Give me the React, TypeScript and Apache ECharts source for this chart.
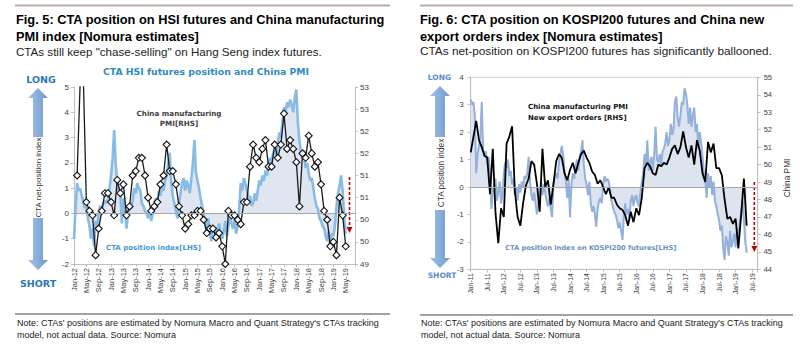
import React, { useEffect, useRef } from 'react';
import * as echarts from 'echarts';

// ---------- Fig. 5 data (HSI) ----------
const hsiTickLabels = ['Jan-12','May-12','Sep-12','Jan-13','May-13','Sep-13','Jan-14','May-14','Sep-14','Jan-15','May-15','Sep-15','Jan-16','May-16','Sep-16','Jan-17','May-17','Sep-17','Jan-18','May-18','Sep-18','Jan-19','May-19'];
// China manufacturing PMI, monthly from Jan-12 (RHS)
const hsiPmi = [
  null, 51.0, 53.1, 53.3, 50.4, 50.2, 50.1, 49.2, 49.8, 50.2, 50.6, 50.6,
  50.4, 50.1, 50.9, 50.6, 50.8, 50.1, 50.3, 51.0, 51.1, 51.4, 51.4, 51.0,
  50.5, 50.2, 50.3, 50.4, 50.8, 51.0, 51.7, 51.1, 51.1, 50.8, 50.3, 50.1,
  49.8, 49.9, 50.1, 50.1, 50.2, 50.2, 50.0, 49.7, 49.8, 49.8, 49.6, 49.7,
  49.4, 49.0, 50.2, 50.1, 50.1, 50.0, 49.9, 50.4, 50.4, 51.2, 51.7, 51.4,
  51.3, 51.6, 51.8, 51.2, 51.2, 51.7, 51.4, 51.7, 52.4, 51.6, 51.8, 51.6,
  51.3, 50.3, 51.5, 51.4, 51.9, 51.5, 51.2, 51.3, 50.8, 50.2, 50.0, 49.4,
  49.5, 49.2, 50.5, 50.1, 49.4
];
// CTA HSI position index, half-monthly from Jan-12 (LHS)
const hsiCta = [
  -1.0, 0.2, 1.2, 0.9, 1.0, 0.7, 0.5, 0.2, 0.3, -0.2,
  -0.5, -1.0, -0.6, -1.3, -0.3, -0.7, 0.0, 0.3, 0.2, 0.4,
  0.5, 0.4, 0.6, 1.0, 1.5, 2.2, 3.3, 2.0, 1.2, 0.8,
  0.9, -0.4, 0.6, 0.2, -0.6, 0.0, 0.3, 0.2, 0.5, 1.0,
  0.8, 1.2, 1.0, 0.9, 0.4, 0.3, 0.1, 0.0, -0.2, 0.1,
  -0.3, 0.0, 0.3, 0.6, 0.5, 0.9, 0.7, 1.1, 0.9, 1.3,
  1.5, 2.0, 2.4, 1.2, 0.7, 0.4, 0.1, -0.2, 0.4, 0.8,
  1.2, 1.4, 0.9, 1.3, 1.1, 0.8, 1.4, 2.0, 2.9, 1.6,
  1.3, 1.0, 0.6, 0.3, -0.1, -0.4, -0.6, -0.2, -0.8, -1.1,
  -0.5, -0.7, -0.9, -0.6, -0.4, -0.8, -1.0, -0.7, -0.3, -0.9,
  -0.5, -0.2, -0.4, -0.6, -0.3, -0.8, -0.5, 0.2, 1.2, 0.9,
  1.4, 1.2, 0.9, 0.5, 0.7, 0.3, 0.4, 0.8, 0.5, 0.9,
  1.3, 1.1, 1.5, 1.3, 1.7, 1.5, 1.9, 2.2, 2.0, 2.4,
  2.5, 2.3, 2.8, 3.2, 3.0, 3.6, 4.2, 4.0, 4.4, 4.2,
  4.5, 4.3, 4.0, 4.6, 4.9, 3.6, 2.9, 2.4, 2.2, 2.5,
  1.8, 2.0, 1.6, 1.3, 1.4, 1.0, 0.6, 0.3, 0.2, -0.2,
  -0.3, -0.5, -0.6, -0.9, -1.1, -0.7, -1.3, -0.8, -0.9, -0.5,
  0.3, 0.8, 1.1, 1.5, 0.9, -0.2, -0.8
];

// ---------- Fig. 6 data (KOSPI200) ----------
const kospiTickLabels = ['Jan-11','Jul-11','Jan-12','Jul-12','Jan-13','Jul-13','Jan-14','Jul-14','Jan-15','Jul-15','Jan-16','Jul-16','Jan-17','Jul-17','Jan-18','Jul-18','Jan-19','Jul-19'];
// China PMI new export orders, monthly from Jan-11 (RHS)
const kospiExportOrders = [
  50.7, 51.6, 52.5, 51.4, 51.0, 50.5, 50.4, 48.3, 50.9, 47.2,
  45.5, 47.5, 47.0, 51.2, 51.6, 52.2, 48.5, 47.0, 46.5, 47.8,
  48.8, 49.2, 50.2, 50.0, 48.9, 47.3, 50.9, 48.7, 49.1, 47.7,
  48.9, 50.2, 50.6, 50.4, 49.5, 49.1, 49.7, 50.1, 49.5, 50.1,
  50.6, 50.8, 50.4, 50.1, 49.6, 49.4, 48.9, 49.1, 48.7, 48.3,
  48.7, 48.1, 48.1, 47.7, 47.5, 47.4, 47.1, 46.5, 47.3, 46.7,
  47.5, 47.1, 48.1, 49.8, 50.1, 49.9, 49.5, 49.4, 50.0, 49.9,
  50.1, 50.0, 50.4, 50.9, 51.1, 50.6, 51.0, 51.9, 51.0, 50.4,
  51.1, 50.0, 51.4, 50.8, 49.5, 49.0, 51.3, 50.7, 51.2, 49.8,
  49.8, 49.4, 48.0, 46.9, 47.0, 46.6, 46.9, 45.2, 47.1, 49.2,
  46.5
];
// CTA KOSPI200 position index, half-monthly from Jan-11 (LHS)
const kospiCta = [
  3.2, 3.0, 3.1, 2.6, 0.5, 1.2, 1.5, 1.8, 3.1, 1.4,
  1.1, 1.3, 0.8, 1.1, 0.6, -0.8, -0.2, 0.1, 0.3, -0.5,
  -0.2, 0.2, -0.6, -0.3, 0.5, 0.9, 0.7, 1.0, 0.4, 0.6,
  0.1, 0.3, -0.3, 0.0, -0.5, 0.1, -0.2, 0.2, 0.0, 0.4,
  0.3, 0.5, 1.1, 0.2, -0.3, -0.5, -0.2, -0.6, -1.0, -0.7,
  -0.2, 0.2, -0.3, 0.1, -0.2, -0.5, -0.7, -0.4, -0.8, -1.1,
  0.1, 0.4, 0.5, 0.3, 0.9, 1.2, 1.5, 1.2, 0.6, 0.2,
  -0.4, 0.3, -1.1, 0.1, 0.5, 0.3, 0.7, 1.0, 0.6, 1.1,
  1.3, 1.7, 0.8, 0.3, 0.1, -0.3, 0.2, -0.6, -0.9, -0.7,
  -1.0, -1.45, -0.8, -0.5, -0.4, -0.6, 0.1, 0.4, 0.2, 0.3,
  0.2, -0.1, -0.5, -0.7, -0.9, -1.0, -1.2, -1.5, -1.3, -1.6,
  -1.93, -1.1, -0.6, -1.0, -0.8, -1.2, -0.5, -0.3, -0.7, -0.4,
  -0.3, -0.6, -0.7, -0.2, 0.2, 0.5, 1.2, 0.8, 1.7, 0.6,
  0.9, 1.1, 0.6, 1.2, 2.2, 1.0, 0.9, 1.2, 0.8, 1.3,
  1.4, 1.6, 2.0, 1.5, 1.7, 2.3, 1.9, 2.1, 3.1, 3.3,
  2.5, 2.2, 2.6, 3.1, 3.0, 3.6, 3.4, 3.0, 2.3, 2.9,
  2.2, 2.6, 2.9, 2.0, 2.3, 1.4, 2.0, 1.6, 1.1, 0.5,
  0.3, -0.4, 0.5, 0.0, 0.4, -0.3, 0.2, -0.5, -0.7, -1.0,
  -1.2, -1.6, -1.4, -2.2, -2.66, -1.8, -2.0, -2.5, -1.6, -2.2,
  -2.0, -1.7, -2.2, -1.5, -1.9, -1.3, -1.0, -0.5, -1.2, -2.0,
  -2.4
];

const FONT = 'Liberation Sans';
const VERD = 'DejaVu Sans';
const AXIS_GRAY = '#bfbfbf';

const txt = (x: number, y: number, text: string, size: number, extra: any = {}, rot = 0) => ({
  type: 'text', x, y, rotation: rot, silent: true,
  style: { text, fontSize: size, fontFamily: FONT, fill: '#222', align: 'left', verticalAlign: 'middle', ...extra },
});

const upArrow = (cx: number, top: number, bottom: number, hw: number, hh: number, sw: number) => [
  [cx, top], [cx + hw / 2, top + hh], [cx + sw / 2, top + hh], [cx + sw / 2, bottom],
  [cx - sw / 2, bottom], [cx - sw / 2, top + hh], [cx - hw / 2, top + hh],
];
const downArrow = (cx: number, top: number, bottom: number, hw: number, hh: number, sw: number) => [
  [cx - sw / 2, top], [cx + sw / 2, top], [cx + sw / 2, bottom - hh], [cx + hw / 2, bottom - hh],
  [cx, bottom], [cx - hw / 2, bottom - hh], [cx - sw / 2, bottom - hh],
];

const arrowFill = {
  type: 'linear', x: 0, y: 0, x2: 1, y2: 0,
  colorStops: [{ offset: 0, color: '#a3c0e6' }, { offset: 1, color: '#7099cf' }],
};

function redArrow(x: number, y1: number, y2: number) {
  return [
    { type: 'line', silent: true, shape: { x1: x, y1, x2: x, y2: y2 - 5 }, style: { stroke: '#c00000', lineWidth: 1.6, lineDash: [3, 2] } },
    { type: 'polygon', silent: true, shape: { points: [[x - 3, y2 - 6], [x + 3, y2 - 6], [x, y2]] }, style: { fill: '#c00000' } },
  ];
}

function yAxisBase(gridIndex: number, min: number, max: number, interval: number, position: string, size: number, margin: number, formatter?: any) {
  return {
    type: 'value', gridIndex, min, max, interval, position,
    axisLine: { show: true, onZero: false, lineStyle: { color: AXIS_GRAY } },
    axisTick: { show: true, length: 3, lineStyle: { color: AXIS_GRAY } },
    splitLine: { show: false },
    axisLabel: { fontFamily: FONT, fontSize: size, color: '#404040', margin, formatter },
  };
}

export default function App() {
  const ref = useRef<HTMLDivElement>(null);
  useEffect(() => {
    if (!ref.current) return;
    const chart = echarts.init(ref.current, undefined, { renderer: 'svg' });
    const zeroLine = {
      silent: true, symbol: 'none', label: { show: false },
      lineStyle: { color: '#a6a6a6', width: 1, type: 'solid' },
      data: [{ yAxis: 0 }],
    };
    const option: any = {
      animation: false,
      backgroundColor: '#ffffff',
      grid: [
        { left: 74, top: 87, width: 281, height: 177 },
        { left: 470.7, top: 77.3, width: 287, height: 192, show: true, borderColor: '#cfcfcf', borderWidth: 1, backgroundColor: 'transparent' },
      ],
      xAxis: [
        {
          type: 'value', gridIndex: 0, min: 0, max: 91, interval: 4,
          axisLine: { show: true, onZero: false, lineStyle: { color: AXIS_GRAY } },
          axisTick: { show: true, length: 3, lineStyle: { color: AXIS_GRAY } },
          splitLine: { show: false },
          axisLabel: {
            rotate: 90, fontFamily: FONT, fontSize: 7.5, color: '#404040', margin: 4,
            formatter: (v: number) => (v % 4 === 0 && hsiTickLabels[v / 4]) ? hsiTickLabels[v / 4] : '',
          },
        },
        {
          type: 'value', gridIndex: 1, min: 0, max: 104, interval: 6,
          axisLine: { show: true, onZero: false, lineStyle: { color: AXIS_GRAY } },
          axisTick: { show: true, length: 3, lineStyle: { color: AXIS_GRAY } },
          splitLine: { show: false },
          axisLabel: {
            rotate: 90, fontFamily: FONT, fontSize: 6.8, color: '#404040', margin: 4,
            formatter: (v: number) => (v % 6 === 0 && kospiTickLabels[v / 6]) ? kospiTickLabels[v / 6] : '',
          },
        },
      ],
      yAxis: [
        yAxisBase(0, -2, 5, 1, 'left', 8, 5),
        yAxisBase(0, 49, 53, 0.5, 'right', 8, 5, (v: number) => v.toFixed(0)),
        yAxisBase(1, -3, 4, 1, 'left', 7.5, 7),
        yAxisBase(1, 44, 55, 1, 'right', 7.5, 6),
      ],
      series: [
        {
          type: 'line', xAxisIndex: 0, yAxisIndex: 0, showSymbol: false, z: 2,
          data: hsiCta.map((v, k) => [k / 2, v]),
          lineStyle: { color: 'rgba(118,178,226,0.85)', width: 2.6 },
          areaStyle: { color: '#dfe6f1', opacity: 1 },
          markLine: zeroLine,
        },
        {
          type: 'line', xAxisIndex: 0, yAxisIndex: 1, z: 4,
          data: hsiPmi.map((v, i) => [i, v == null ? '-' : v]),
          symbol: 'diamond', symbolSize: 7,
          itemStyle: { color: '#ffffff', borderColor: '#111111', borderWidth: 1.1 },
          lineStyle: { color: '#1a1a1a', width: 1.3 },
        },
        {
          type: 'line', xAxisIndex: 1, yAxisIndex: 2, showSymbol: false, z: 2,
          data: kospiCta.map((v, k) => [k / 2, v]),
          lineStyle: { color: '#93b1da', width: 2 },
          areaStyle: { color: '#dde4ef', opacity: 1 },
          markLine: zeroLine,
        },
        {
          type: 'line', xAxisIndex: 1, yAxisIndex: 3, showSymbol: false, z: 4,
          data: kospiExportOrders.map((v, i) => [i, v]),
          lineStyle: { color: '#000000', width: 1.8 },
        },
      ],
      graphic: [
        // top rules
        { type: 'rect', silent: true, shape: { x: 15, y: 4.5, width: 375, height: 2 }, style: { fill: '#b9aca5' } },
        { type: 'rect', silent: true, shape: { x: 420, y: 4.5, width: 373, height: 2 }, style: { fill: '#b9aca5' } },
        // titles
        txt(16, 19, 'Fig. 5: CTA position on HSI futures and China manufacturing', 12.8, { fontWeight: 'bold', fill: '#000' }),
        txt(16, 36, 'PMI index [Nomura estimates]', 12.8, { fontWeight: 'bold', fill: '#000' }),
        txt(16, 51, 'CTAs still keep "chase-selling" on Hang Seng index futures.', 11.6, { fill: '#222' }),
        txt(420, 19, 'Fig. 6: CTA position on KOSPI200 futures and China new', 12.8, { fontWeight: 'bold', fill: '#000' }),
        txt(420, 36, 'export orders index [Nomura estimates]', 12.8, { fontWeight: 'bold', fill: '#000' }),
        txt(420, 51, 'CTAs net-position on KOSPI200 futures has significantly ballooned.', 11.8, { fill: '#222' }),
        // chart title (left)
        txt(206, 71, 'CTA HSI futures position and China PMI', 9.3, { fontFamily: VERD, fontWeight: 'bold', fill: '#2f8ac4', align: 'center' }),
        // left arrows
        { type: 'polygon', silent: true, shape: { points: upArrow(38, 88, 137, 20, 10, 10) }, style: { fill: arrowFill } },
        { type: 'polygon', silent: true, shape: { points: downArrow(38, 218, 270, 20, 10, 10) }, style: { fill: arrowFill } },
        txt(41, 79, 'LONG', 9.5, { fontFamily: VERD, fontWeight: 'bold', fill: '#2e75b6', align: 'center' }),
        txt(38, 283, 'SHORT', 9.5, { fontFamily: VERD, fontWeight: 'bold', fill: '#2e75b6', align: 'center' }),
        txt(38, 177.5, 'CTA net-position index', 8, { fill: '#333', align: 'center' }, Math.PI / 2),
        // right arrows
        { type: 'polygon', silent: true, shape: { points: upArrow(440, 86, 137, 20, 10, 10) }, style: { fill: arrowFill } },
        { type: 'polygon', silent: true, shape: { points: downArrow(440, 210, 268, 20, 10, 10) }, style: { fill: arrowFill } },
        txt(439.5, 77, 'LONG', 7.5, { fontFamily: VERD, fontWeight: 'bold', fill: '#5b8ac8', align: 'center' }),
        txt(442, 275.5, 'SHORT', 7.5, { fontFamily: VERD, fontWeight: 'bold', fill: '#5b8ac8', align: 'center' }),
        txt(441, 173, 'CTA position index', 8.3, { fill: '#333', align: 'center' }, Math.PI / 2),
        txt(787, 178, 'China PMI', 8.3, { fill: '#333', align: 'center' }, Math.PI / 2),
        // annotations
        txt(179, 113, 'China manufacturing', 7.2, { fontFamily: VERD, fontWeight: 'bold', fill: '#404040', align: 'center' }),
        txt(179, 123.5, 'PMI[RHS]', 7.2, { fontFamily: VERD, fontWeight: 'bold', fill: '#404040', align: 'center' }),
        txt(106, 248, 'CTA position index[LHS]', 7, { fontFamily: VERD, fontWeight: 'bold', fill: '#3d9ad6' }),
        txt(528, 107, 'China manufacturing PMI', 7, { fontFamily: VERD, fontWeight: 'bold', fill: '#111' }),
        txt(528, 117.5, 'New export orders [RHS]', 7, { fontFamily: VERD, fontWeight: 'bold', fill: '#111' }),
        txt(505, 248, 'CTA position index on KOSPI200 futures[LHS]', 6.7, { fontFamily: VERD, fontWeight: 'bold', fill: '#6d8fc4' }),
        // red dashed arrows
        ...redArrow(349.5, 177, 233),
        ...redArrow(754.3, 182, 252),
        // bottom rules
        { type: 'line', silent: true, shape: { x1: 15, y1: 314, x2: 390, y2: 314 }, style: { stroke: '#444', lineWidth: 1 } },
        { type: 'line', silent: true, shape: { x1: 420, y1: 315, x2: 793, y2: 315 }, style: { stroke: '#444', lineWidth: 1 } },
        // notes
        txt(17, 322.5, "Note: CTAs' positions are estimated by Nomura Macro and Quant Strategy's CTAs tracking", 9, { fill: '#222' }),
        txt(17, 334.5, 'model, not actual data. Source: Nomura', 9, { fill: '#222' }),
        txt(421, 323, "Note: CTAs' positions are estimated by Nomura Macro and Quant Strategy's CTAs tracking", 9, { fill: '#222' }),
        txt(421, 335, 'model, not actual data. Source: Nomura', 9, { fill: '#222' }),
      ],
    };
    chart.setOption(option);
    return () => chart.dispose();
  }, []);
  return (
    <div
      ref={ref}
      style={{ position: 'fixed', left: 0, top: 0, width: 800, height: 352, background: '#ffffff' }}
    />
  );
}
